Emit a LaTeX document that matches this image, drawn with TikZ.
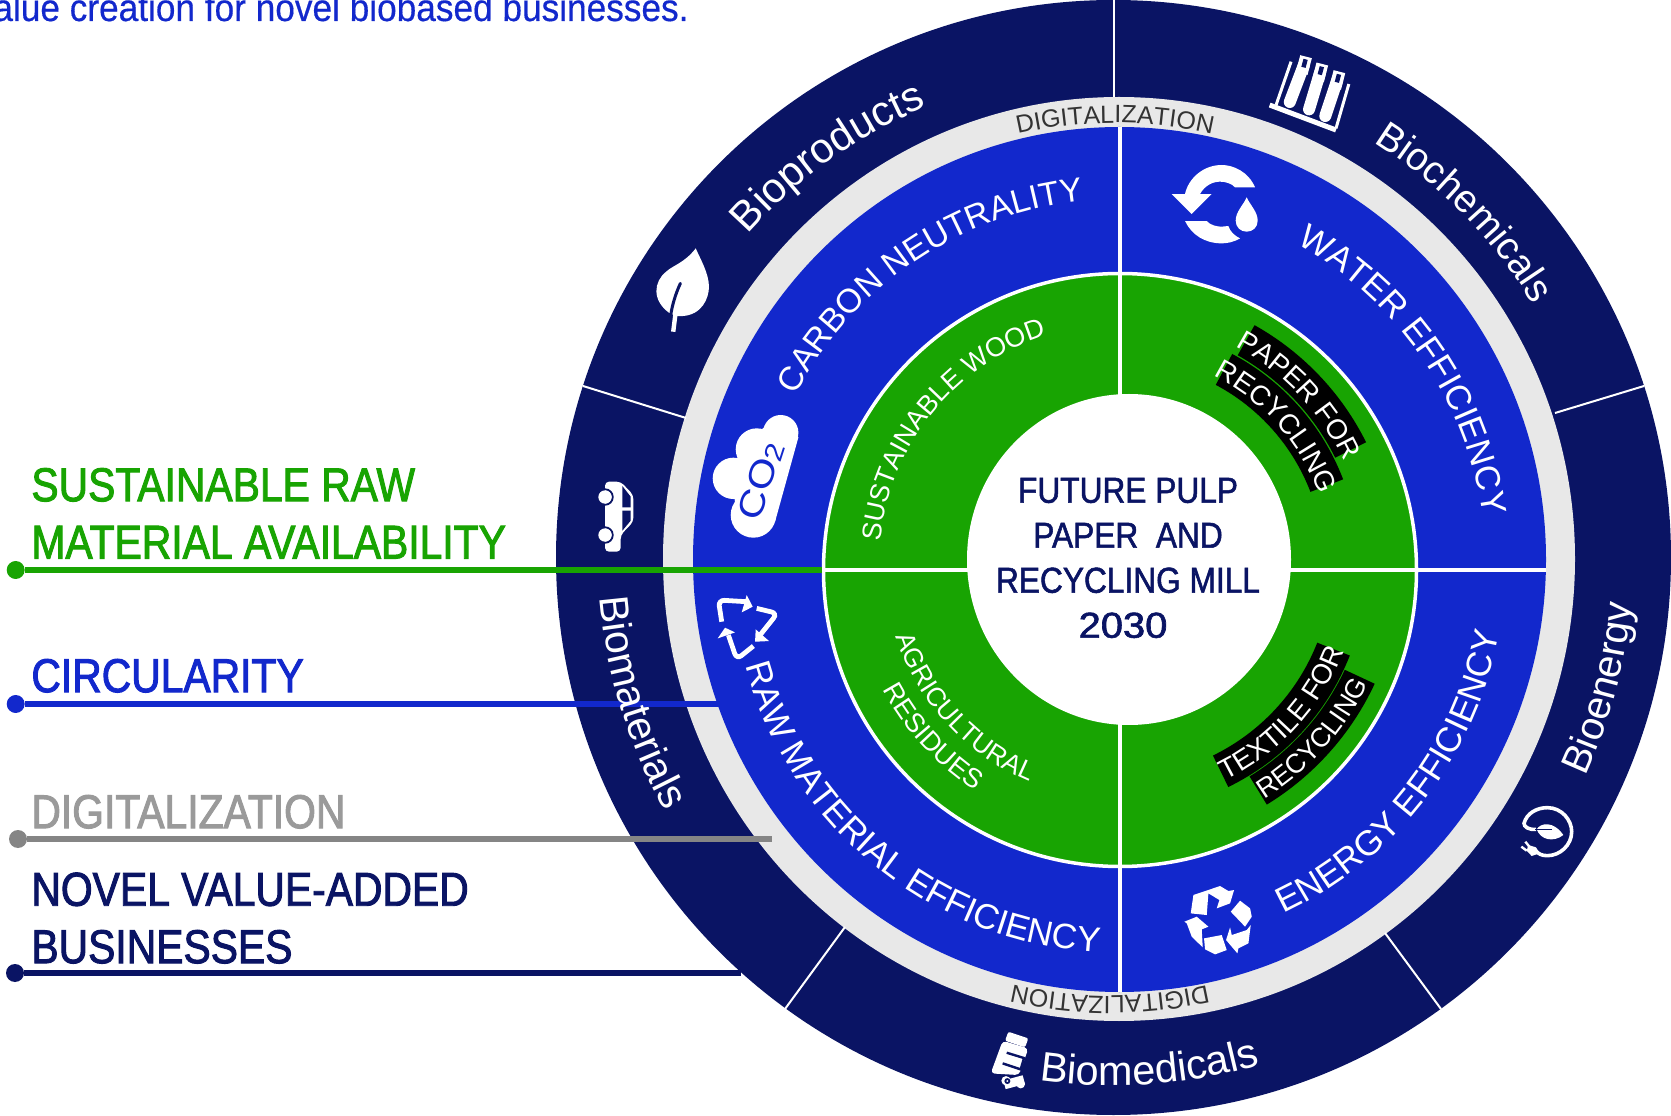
\documentclass[tikz,border=0pt]{standalone}
\usepackage{fontspec}
\usepackage{graphicx}
\usetikzlibrary{decorations.text}
\setmainfont{Liberation Sans}
\newfontfamily\arcfont{Liberation Sans}
\newfontfamily\legfont[FakeStretch=0.86,FakeBold=2]{Liberation Sans}
\newfontfamily\midfont[FakeStretch=0.88,FakeBold=1.5]{Liberation Sans}
\newfontfamily\topfont[FakeStretch=0.915,FakeBold=0.4]{Liberation Sans}
\definecolor{navyc}{HTML}{0A1464}
\definecolor{bluec}{HTML}{1228CC}
\definecolor{greenc}{HTML}{18A402}
\definecolor{ringc}{HTML}{E8E8E8}
\definecolor{greyline}{HTML}{858585}
\definecolor{greytext}{HTML}{9A9A9A}
\definecolor{darktext}{HTML}{333333}
% centre x, centre y, radius, start, end, size, colour, text
\newcommand{\arctext}[8]{\path[shift={(#1,#2)},decorate,decoration={text along path,text align=center,
  text={|\arcfont\fontsize{#6}{#6}\selectfont\color{#7}|#8}}] (#4:#3) arc (#4:#5:#3);}
\newcommand{\bandfill}[6]{\fill[black,shift={(#1,#2)}] (#5:#3) arc (#5:#6:#3) -- (#6:#4) arc (#6:#5:#4) -- cycle;}
\tikzset{
  legdot/.style={circle,inner sep=0pt,minimum size=9pt,fill=#1},
  legline/.style={draw=#1,line width=3pt},
  legtext/.style={anchor=south west,inner sep=0pt,align=left,text=#1,font=\legfont\fontsize{23.75}{28.7}\selectfont},
  sep/.style={draw=white,line width=1pt},
  cross/.style={draw=white,line width=2pt},
  zmA/.style={shift={(1000,1115)},x=0.2140pt,y=-0.1667pt},
  zmB/.style={shift={(550,1115)},x=0.1786pt,y=-0.1667pt},
  zmC/.style={shift={(550,715)},x=0.1667pt,y=-0.1667pt},
  zmD/.style={shift={(900,335)},x=0.1667pt,y=-0.1667pt},
  zmW/.style={shift={(1150,975)},x=0.1667pt,y=-0.1667pt},
  zmP/.style={shift={(1500,325)},x=0.1667pt,y=-0.1667pt},
}
\begin{document}
\begin{tikzpicture}[x=0.5pt,y=0.5pt]
\useasboundingbox (0,0) rectangle (1671,1115);
% rings
\fill[navyc] (1113.5,557.5) circle [radius=557.5];
\fill[ringc] (1119,556) ellipse [x radius=456,y radius=462];
\fill[bluec] (1119.5,555.5) ellipse [x radius=426.5,y radius=432.5];
\draw[white,line width=1.75pt,fill=greenc] (1120,545) circle [radius=296.5];
% cross lines
\draw[cross] (1120,988) -- (1120,123);
\draw[cross] (822,545) -- (1546,545);
\fill[white] (1129,555.5) ellipse [x radius=162,y radius=165.5];
% separators of the outer ring
\draw[sep] (1113.5,1115) -- (1113.5,1018);
\draw[sep] (583,729) -- (686,697);
\draw[sep] (1555,702) -- (1644,729);
\draw[sep] (845,188) -- (785,106);
\draw[sep] (1385,182) -- (1441,106);
% black bands
\bandfill{1120}{550}{240.5}{275}{26.5}{60.7}
\bandfill{1120}{550}{204}{239}{21}{62}
\bandfill{1120}{550}{212}{247}{-64}{-21.5}
\bandfill{1120}{550}{248}{281}{-58.5}{-25}
% legend
\node[legdot=greenc] (dotg) at (15.7,545) {};
\coordinate (endg) at (822,545);
\draw[legline=greenc] (dotg) -- (endg);
\node[legdot=bluec] (dotb) at (15.7,411) {};
\coordinate (endb) at (719,411);
\draw[legline=bluec] (dotb) -- (endb);
\node[legdot=greyline] (dotd) at (18,276) {};
\coordinate (endd) at (772,276);
\draw[legline=greyline] (dotd) -- (endd);
\node[legdot=navyc] (dotn) at (15,142) {};
\coordinate (endn) at (741,142);
\draw[legline=navyc] (dotn) -- (endn);
\node[legtext=greenc] (txtg) at (31,556) {SUSTAINABLE RAW\\MATERIAL AVAILABILITY};
\node[legtext=bluec] (txtb) at (31,422) {CIRCULARITY};
\node[legtext=greytext] (txtd) at (31,286) {DIGITALIZATION};
\node[legtext=navyc] (txtn) at (31,151) {NOVEL VALUE-ADDED\\BUSINESSES};
\node[anchor=base east,inner sep=0pt,text=bluec,font=\topfont\fontsize{19.25}{19.25}\selectfont] (toptxt) at (689,1094) {alue creation for novel biobased businesses.};
\node[align=center,inner sep=0pt,text=navyc,font=\midfont\fontsize{18}{22.5}\selectfont] (mill) at (1128,557) {FUTURE PULP\\PAPER\ \ AND\\RECYCLING MILL\\\mbox{\scalebox{1.26}[1]{2030}\kern 5pt}};
% outer labels
\arctext{1113.5}{557.5}{488}{155}{96}{21}{white}{Bioproducts}
\arctext{1113.5}{557.5}{490}{64.5}{24.5}{19.5}{white}{Biochemicals}
\arctext{1113.5}{557.5}{520}{-35}{5}{20}{white}{Bioenergy}
\arctext{1113.5}{557.5}{528}{254}{294}{20.7}{white}{Biomedicals}
\arctext{1113.5}{557.5}{515}{177}{217}{20.5}{white}{Biomaterials}
% ring labels
\arctext{1115}{556}{436}{115}{65}{12.5}{darktext}{DIGITALIZATION}
\arctext{1110}{556}{437}{-60}{-120}{12.5}{darktext}{DIGITALIZATION}
% blue labels
\arctext{1120}{550}{366}{164}{84}{16.8}{white}{CARBON NEUTRALITY}
\arctext{1120}{550}{366}{74.5}{-5.5}{17.4}{white}{WATER EFFICIENCY}
\arctext{1120}{550}{385}{-75}{0}{17.6}{white}{ENERGY EFFICIENCY}
\arctext{1120}{550}{388}{185}{277}{17.6}{white}{RAW MATERIAL EFFICIENCY}
% green labels
\arctext{1120}{550}{241}{181}{101}{13.5}{white}{SUSTAINABLE WOOD}
\arctext{1120}{550}{235}{185}{260}{13.2}{white}{AGRICULTURAL}
\arctext{1120}{550}{268}{195}{250}{13.5}{white}{RESIDUES}
\arctext{1120}{550}{247}{70}{17}{14}{white}{PAPER FOR}
\arctext{1120}{550}{211}{70}{13}{14}{white}{RECYCLING}
\arctext{1120}{550}{240}{-70}{-15}{14}{white}{TEXTILE FOR}
\arctext{1120}{550}{275}{-70}{-14}{13.5}{white}{RECYCLING}
% icon: leaf
\begin{scope}[zmB]
\fill[white] (408,745) .. controls (375,790) and (345,795) .. (325,815) .. controls (290,845) and (285,900) .. (333,938) -- (352,948) -- (370,948) .. controls (425,945) and (445,895) .. (445,860) .. controls (445,820) and (420,775) .. (408,745) -- cycle;
\draw[navyc,line width=1.5pt,line cap=round] (365,850) .. controls (352,880) and (342,915) .. (338,945);
\draw[white,line width=2.2pt] (352,935) -- (345,995);
\end{scope}
% icon: test tubes
\begin{scope}[zmA]
\draw[white,line width=2.5pt] (630,315) -- (785,390);
\draw[white,line width=1.5pt] (680,185) -- (645,315);
\draw[white,line width=1.5pt] (815,252) -- (785,385);
\foreach \ta/\tb/\tc/\td in {715/170/677/306,753/192/722/328,793/215/760/348}{
  \draw[white,line width=6pt,line cap=round] (\ta-5,\tb+25) -- (\tc,\td);
  \draw[white,line width=6pt] (\ta,\tb) -- (\ta-10,\tb+50);
  \draw[navyc,line width=2.2pt] (\ta-1,\tb+8) -- (\ta-6,\tb+32);
}
\end{scope}
% icon: water cycle
\begin{scope}[zmW]
\fill[white] (315,142) .. controls (295,95) and (250,75) .. (215,75) .. controls (160,75) and (115,115) .. (105,162) -- (65,162) -- (125,222) -- (185,162) -- (150,162) .. controls (165,135) and (190,125) .. (210,125) .. controls (225,125) and (245,130) .. (255,142) -- cycle;
\fill[white] (105,243) -- (170,243) .. controls (180,255) and (200,260) .. (215,260) -- (235,258) .. controls (240,275) and (255,288) .. (270,295) .. controls (250,307) and (230,310) .. (215,310) .. controls (165,310) and (125,285) .. (105,243) -- cycle;
\fill[white] (290,172) .. controls (280,195) and (257,215) .. (257,242) .. controls (257,262) and (272,275) .. (290,275) .. controls (308,275) and (323,262) .. (323,242) .. controls (323,215) and (300,195) .. (290,172) -- cycle;
\end{scope}
% icon: car
\begin{scope}[zmC]
\fill[white,rounded corners=2pt] (165,245) -- (212,245) -- (250,285) -- (250,365) -- (212,405) -- (212,455) -- (165,455) -- cycle;
\fill[navyc] (217,258) -- (242,290) -- (242,322) -- (217,322) -- cycle;
\fill[navyc] (217,332) -- (242,332) -- (242,362) -- (217,392) -- cycle;
\draw[navyc,line width=1pt] (165,291) circle [radius=23];
\fill[white] (165,291) circle [radius=20];
\draw[navyc,line width=1pt] (165,405) circle [radius=23];
\fill[white] (165,405) circle [radius=20];
\end{scope}
% icon: cloud
\begin{scope}[zmC]
\fill[white] (692,98) circle [radius=53];
\fill[white] (620,148) circle [radius=63];
\fill[white] (550,235) circle [radius=62];
\fill[white] (610,345) circle [radius=68];
\fill[white] (745,112) -- (675,365) -- (560,340) -- (545,240) -- (620,100) -- (670,60) -- cycle;
\node[rotate=72,inner sep=0pt,text=bluec,font=\arcfont\fontsize{17.5}{17.5}\selectfont] (cotwo) at (632,243) {\scalebox{1.2}[1]{CO\raisebox{-0.1ex}{\fontsize{13}{13}\selectfont 2}}};
\end{scope}
% icon: triangle of arrows
\begin{scope}[zmC]
\draw[white,line width=2.4pt,rounded corners=3pt] (515,665) -- (505,600) -- (590,605);
\fill[white] (608,620) -- (590,585) -- (575,637) -- cycle;
\draw[white,line width=2.4pt,rounded corners=3pt] (620,625) -- (682,640) -- (630,705);
\fill[white] (615,725) -- (617,688) -- (657,723) -- cycle;
\draw[white,line width=2.4pt,rounded corners=3pt] (610,738) -- (560,778) -- (535,705);
\fill[white] (503,715) -- (555,697) -- (525,683) -- cycle;
\end{scope}
% icon: medicine bottle
\begin{scope}[zmD]
\fill[white,rounded corners=1pt] (325,755) -- (385,775) -- (375,802) -- (315,782) -- cycle;
\fill[white,rounded corners=2pt] (308,782) -- (385,805) -- (357,885) -- (272,880) -- cycle;
\draw[navyc,line width=1.2pt] (320,818) -- (372,834) -- (362,868) -- (308,850);
\fill[white,rotate around={15:(342,905)}] (312,893) rectangle (372,920);
\fill[white] (318,902) circle [radius=14];
\fill[white] (362,912) circle [radius=13];
\draw[navyc,line width=0.9pt] (322,903) circle [radius=6];
\end{scope}
% icon: recycling symbol
\begin{scope}[zmD]
\fill[white] (872,400) -- (880,345) -- (960,318) -- (985,333) -- (1002,330) -- (990,370) -- (950,385) -- (958,360) -- (925,340) -- (920,405) -- cycle;
\fill[white] (992,395) -- (1020,362) -- (1050,385) -- (1055,410) -- (1035,440) -- cycle;
\fill[white] (1052,435) -- (1045,490) -- (1015,505) -- (1012,520) -- (978,480) -- (990,442) -- (995,465) -- (1040,450) -- cycle;
\fill[white] (853,425) -- (890,410) -- (925,440) -- (905,448) -- (908,502) -- (875,470) -- (860,430) -- cycle;
\fill[white] (912,475) -- (965,465) -- (980,510) -- (945,523) -- (915,508) -- cycle;
\end{scope}
% icon: bioenergy
\begin{scope}[zmP]
\draw[white,line width=1.8pt] (108,118) .. controls (85,120) and (72,110) .. (72,100) .. controls (80,70) and (110,53) .. (142,53) .. controls (185,53) and (215,90) .. (215,125) .. controls (215,165) and (180,197) .. (142,197) .. controls (125,197) and (115,192) .. (105,180);
\fill[white] (110,118) .. controls (122,98) and (160,92) .. (190,135) .. controls (160,158) and (122,150) .. (110,118) -- cycle;
\draw[navyc,line width=0.8pt] (105,118) -- (155,118);
\fill[white] (85,165) -- (108,172) -- (118,190) -- (95,198) -- (80,182) -- cycle;
\draw[white,line width=1.2pt] (88,170) -- (76,155);
\draw[white,line width=1.2pt] (80,182) -- (64,170);
\end{scope}
\end{tikzpicture}
\end{document}
